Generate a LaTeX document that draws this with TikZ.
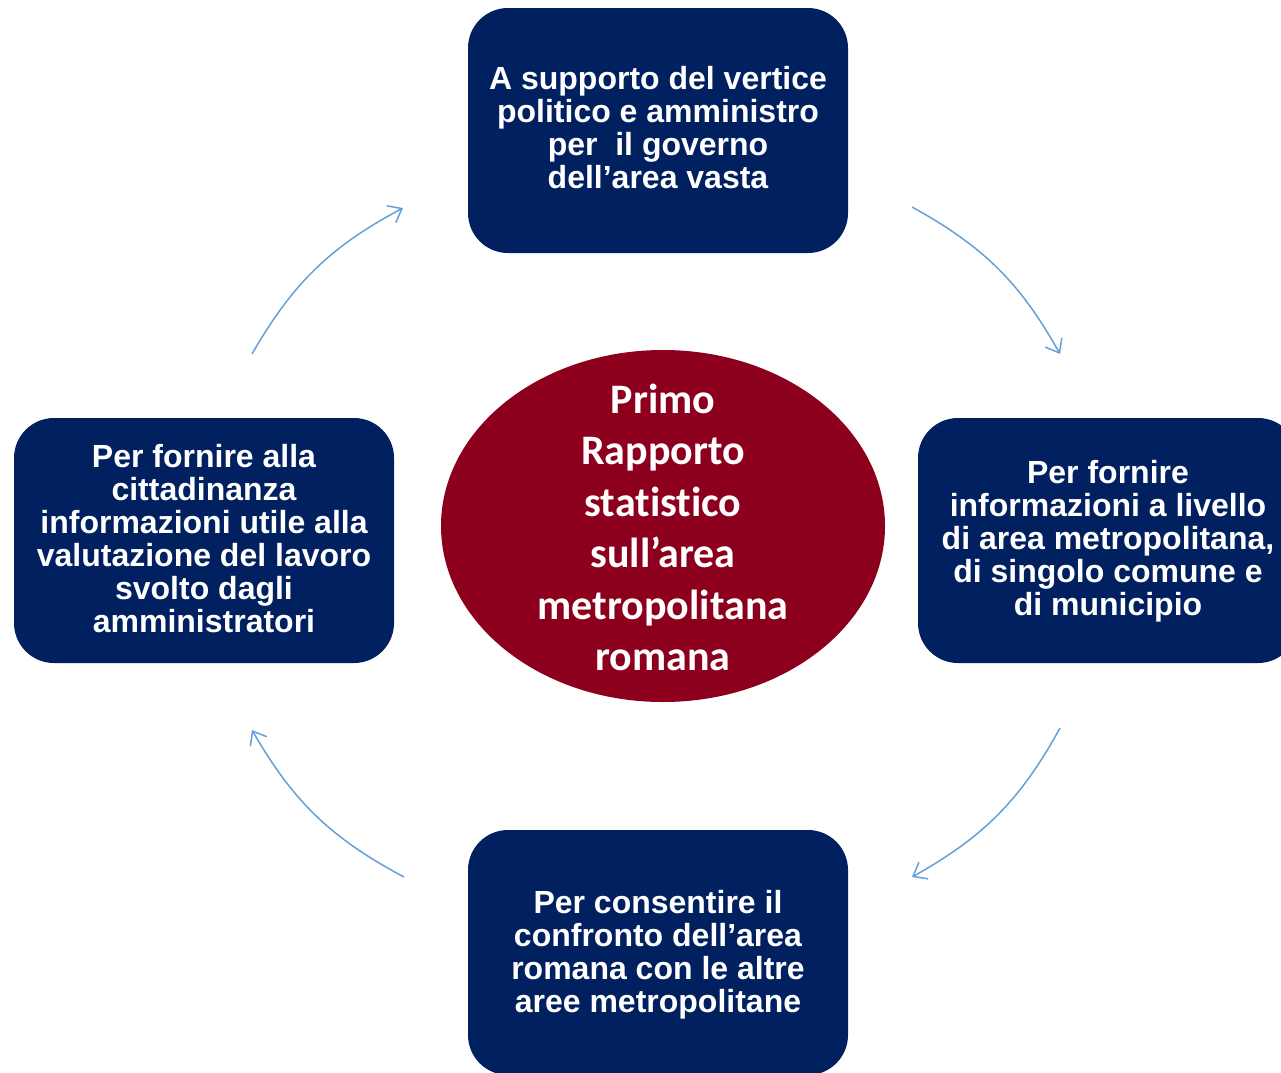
\documentclass[tikz,border=0pt]{standalone}
\usepackage{fontspec}
\setmainfont{Liberation Sans}
\newfontfamily\carlito[Ligatures=NoCommon]{Carlito}
\usetikzlibrary{arrows.meta,shapes.geometric}
\definecolor{navy}{RGB}{0,32,96}
\definecolor{wine}{RGB}{140,0,30}
\definecolor{arrowblue}{RGB}{100,160,218}
\tikzset{
  box/.style={fill=navy, draw=none, rounded corners=40pt, minimum width=380pt, minimum height=245pt, inner sep=0pt},
  boxtext/.style={text=white, align=center, font=\bfseries\fontsize{32}{33}\selectfont, inner sep=0pt},
  flow/.style={draw=arrowblue, line width=1.5pt, -{Straight Barb[length=12pt,width=19pt,line width=1.5pt]}}
}
\begin{document}
\begin{tikzpicture}[x=1pt,y=1pt]
\clip (0,0) rectangle (1281,-1072);
\fill[white] (0,0) rectangle (1281,-1072);
% boxes
\node[box] (top) at (658,-130.5) {};
\node[box] (right) at (1108,-540.5) {};
\node[box] (left) at (204,-540.5) {};
\node[box] (bottom) at (658,-952.5) {};
\node[fill=wine, ellipse, minimum width=444pt, minimum height=352pt, inner sep=0pt, draw=none] (center) at (663,-526) {};
% texts
\node[boxtext] (ttop) at (658,-128) {A supporto del vertice\\politico e amministro\\per~ il governo\\dell’area vasta};
\node[boxtext] (tright) at (1108,-541) {Per fornire\\informazioni a livello\\di area metropolitana,\\di singolo comune e\\di municipio};
\node[boxtext] (tleft) at (204,-539) {Per fornire alla\\cittadinanza\\informazioni utile alla\\valutazione del lavoro\\svolto dagli\\amministratori};
\node[boxtext] (tbottom) at (658,-955) {Per consentire il\\confronto dell’area\\romana con le altre\\aree metropolitane};
\node[text=white, align=center, font=\carlito\bfseries\fontsize{42}{51.5}\selectfont, inner sep=0pt] (tcenter) at (663,-527.5) {Primo\\Rapporto\\statistico\\sull’area\\metropolitana\\romana};
% arrows
\coordinate (a1s) at (252,-354);
\coordinate (a1e) at (403,-208);
\coordinate (a2s) at (912,-207);
\coordinate (a2e) at (1060,-354);
\coordinate (a3s) at (1060,-728);
\coordinate (a3e) at (912,-877);
\coordinate (a4s) at (404,-877);
\coordinate (a4e) at (252,-730);
\draw[flow] (a1s) to[bend left=16] (a1e);
\draw[flow] (a2s) to[bend left=16] (a2e);
\draw[flow] (a3s) to[bend left=16] (a3e);
\draw[flow] (a4s) to[bend left=16] (a4e);
\end{tikzpicture}
\end{document}
